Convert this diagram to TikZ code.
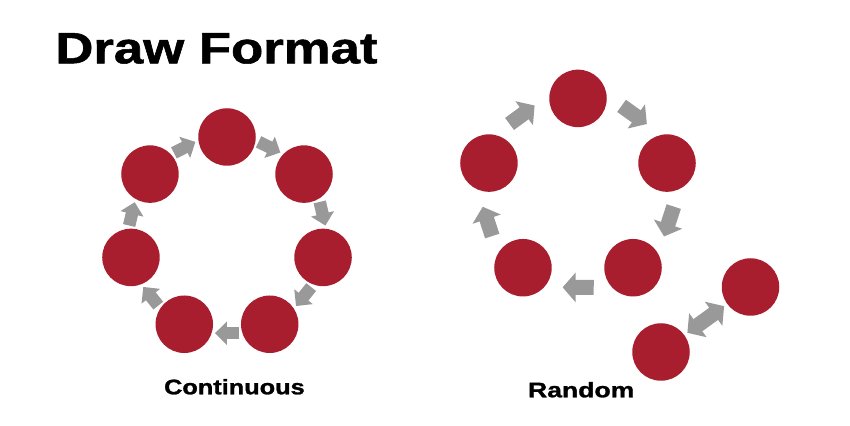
\documentclass[tikz,border=0pt]{standalone}
\usepackage{graphicx}
\usepackage{fontspec}
\setmainfont{Liberation Sans}[BoldFeatures={FakeBold=1.2}]
\usetikzlibrary{arrows.meta}
\definecolor{dotred}{RGB}{168,30,46}
\definecolor{arrgray}{RGB}{153,153,153}

\begin{document}
\begin{tikzpicture}[line join=miter,
		dot/.style={circle, fill=dotred, inner sep=0pt, minimum size=1.15cm},
		flow/.style={draw=arrgray, line width=0.25cm, -{Triangle[length=0.24cm, width=0.46cm]}, shorten <=0.06cm, shorten >=0.06cm},
		bigflow/.style={draw=arrgray, line width=0.3cm, -{Triangle[length=0.26cm, width=0.58cm]}, shorten <=0.36cm, shorten >=0.36cm},
		twoflow/.style={draw=arrgray, line width=0.3cm, {Triangle[length=0.26cm, width=0.58cm]}-{Triangle[length=0.26cm, width=0.58cm]}, shorten <=0.07cm, shorten >=0.07cm},
		label/.style={inner sep=0pt, font=\fontsize{12}{14}\selectfont\bfseries}]
			\useasboundingbox (0,0) rectangle (17,8.52);
			\node[label, anchor=base west, font=\fontsize{25}{30}\selectfont\bfseries] (title) at (1.1,7.254) {\scalebox{1.2}[1]{Draw Format}};
			% continuous
			\coordinate (C) at (4.54,3.81);
			\node[dot] (c1) at ([shift={(90:1.97)}]C) {};
			\node[dot] (c2) at ([shift={(38.57:1.97)}]C) {};
			\node[dot] (c3) at ([shift={(-12.86:1.97)}]C) {};
			\node[dot] (c4) at ([shift={(-64.29:1.97)}]C) {};
			\node[dot] (c5) at ([shift={(-115.71:1.97)}]C) {};
			\node[dot] (c6) at ([shift={(192.86:1.97)}]C) {};
			\node[dot] (c7) at ([shift={(141.43:1.97)}]C) {};
			\draw[flow] (c1.-7.7) -- (c2.136.3);
			\draw[flow] (c2.-59.1) -- (c3.84.9);
			\draw[flow] (c3.-110.6) -- (c4.33.4);
			\draw[flow] (c4.-162) -- (c5.-18);
			\draw[flow] (c5.146.6) -- (c6.-69.4);
			\draw[flow] (c6.95.1) -- (c7.-120.9);
			\draw[flow] (c7.43.7) -- (c1.187.7);
			\node[label, anchor=base] (cont) at (4.688,0.634) {\scalebox{1.2}[1]{Continuous}};
			% random
			\coordinate (R) at (11.56,4.68);
			\node[dot] (r1) at ([shift={(90:1.872)}]R) {};
			\node[dot] (r2) at ([shift={(18:1.872)}]R) {};
			\node[dot] (r3) at ([shift={(-54:1.872)}]R) {};
			\node[dot] (r4) at ([shift={(-126:1.872)}]R) {};
			\node[dot] (r5) at ([shift={(162:1.872)}]R) {};
			\node[dot] (r6) at (15.01,2.78) {};
			\node[dot] (r7) at (13.22,1.48) {};
			\draw[bigflow] (r1.6.6) -- (r2.101.4);
			\draw[bigflow] (r2.-65.4) -- (r3.29.4);
			\draw[bigflow] (r3.-137.4) -- (r4.-42.6);
			\draw[bigflow] (r4.150.6) -- (r5.-114.6);
			\draw[bigflow] (r5.78.6) -- (r1.173.4);
			\draw[twoflow] (r7) -- (r6);
			\node[label, anchor=base] (rand) at (11.624,0.574) {\scalebox{1.26}[1]{Random}};
		\end{tikzpicture}
\end{document}
